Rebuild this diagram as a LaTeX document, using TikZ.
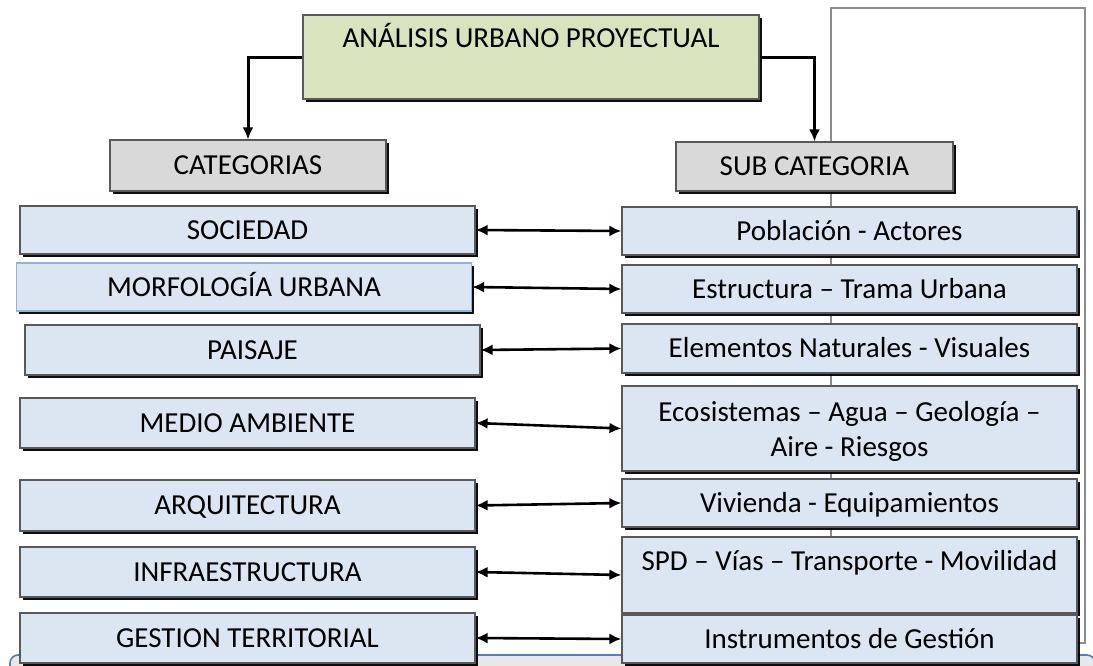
\documentclass[tikz,border=0pt]{standalone}
\usepackage{fontspec}
\setmainfont{Carlito}
\usetikzlibrary{arrows.meta,shadows,backgrounds,positioning}
\definecolor{titlegreen}{HTML}{D7E4BD}
\definecolor{headgray}{HTML}{D9D9D9}
\definecolor{cellblue}{HTML}{DCE6F2}
\definecolor{framegray}{HTML}{8C8C8C}
\definecolor{morfedge}{HTML}{95B3D7}
\definecolor{stripedge}{HTML}{5A7DB0}
\tikzset{
  txt/.style={font=\fontsize{14.5}{17.5}\selectfont},
  box/.style={txt,draw=black!65,line width=0.6pt,inner sep=0pt,fill=cellblue,align=center,
    drop shadow={shadow xshift=1.4pt,shadow yshift=-1.4pt,fill=black,opacity=0.95}},
  cell/.style={box,minimum width=227.5pt,minimum height=#1,text height=9.2pt,text depth=0pt},
  cell/.default=24pt,
  link/.style={line width=1.3pt,{Latex[length=6pt,width=5.5pt]}-{Latex[length=6pt,width=5.5pt]}},
  feed/.style={line width=1.5pt,-{Latex[length=6pt,width=5.5pt]}},
  grayframe/.style={draw=framegray,line width=1.4pt}
}
\begin{document}
\begin{tikzpicture}[x=0.5pt,y=-0.5pt]
\useasboundingbox (0,0) rectangle (1093,665);
\clip (0,0) rectangle (1093,665);
\node[box,fill=titlegreen,minimum width=228pt,minimum height=42pt] (title) at (531,57) {};
\node[txt,anchor=base] (titletext) at ([yshift=-16.5pt]title.north) {ANÁLISIS URBANO PROYECTUAL};
\node[cell=25.5pt,fill=headgray,minimum width=138pt] (cat) at (248,165.5) {CATEGORIAS};
\node[cell=24.5pt,fill=headgray,minimum width=138.5pt] (subcat) at (814.5,166.5) {SUB CATEGORIA};
\node[cell] (soc) at (247.5,230) {SOCIEDAD};
\node[cell,draw=morfedge] (morf) at (244,287) {MORFOLOGÍA URBANA};
\node[cell=25pt] (pais) at (252.5,350) {PAISAJE};
\node[cell=25pt] (medio) at (247.5,423) {MEDIO AMBIENTE};
\node[cell=25.5pt] (arq) at (247.5,505.5) {ARQUITECTURA};
\node[cell=25pt] (infra) at (247.5,572) {INFRAESTRUCTURA};
\node[cell=25pt] (gest) at (247.5,638) {GESTION TERRITORIAL};
\node[cell] (pob) at (849.5,231) {Población - Actores};
\node[cell] (estr) at (849.5,289) {Estructura – Trama Urbana};
\node[cell=24.5pt] (elem) at (849.5,348.5) {Elementos Naturales - Visuales};
\node[box,minimum width=227.5pt,minimum height=42.5pt,text depth=0pt] (eco) at (849.5,428.5) {Ecosistemas – Agua – Geología –\\Aire - Riesgos};
\node[cell] (viv) at (849.5,503) {Vivienda - Equipamientos};
\node[box,minimum width=227.5pt,minimum height=38pt] (spd) at (849.5,575) {};
\node[txt,anchor=base] (spdtext) at ([yshift=-17pt]spd.north) {SPD – Vías – Transporte - Movilidad};
\node[cell] (inst) at (849.5,639) {Instrumentos de Gestión};
\coordinate (ftl) at (831,8);
\coordinate (ftr) at (1085,8);
\begin{scope}[on background layer]
\draw[draw=stripedge,fill=black!9,line width=0.8pt,rounded corners=4pt] (10,655) rectangle (1095,720);
\draw[grayframe] ([yshift=-2pt]inst.east) -| (ftr) -- (ftl) -- (ftl |- inst.north);
\end{scope}
\draw[feed] (title.west) -| (cat.north);
\draw[feed] (title.east) -| (subcat.north);
\foreach \a/\b in {soc/pob,morf/estr,pais/elem,medio/eco,arq/viv,infra/spd,gest/inst}
  \draw[link] (\a.east) -- (\b.west);
\end{tikzpicture}
\end{document}
